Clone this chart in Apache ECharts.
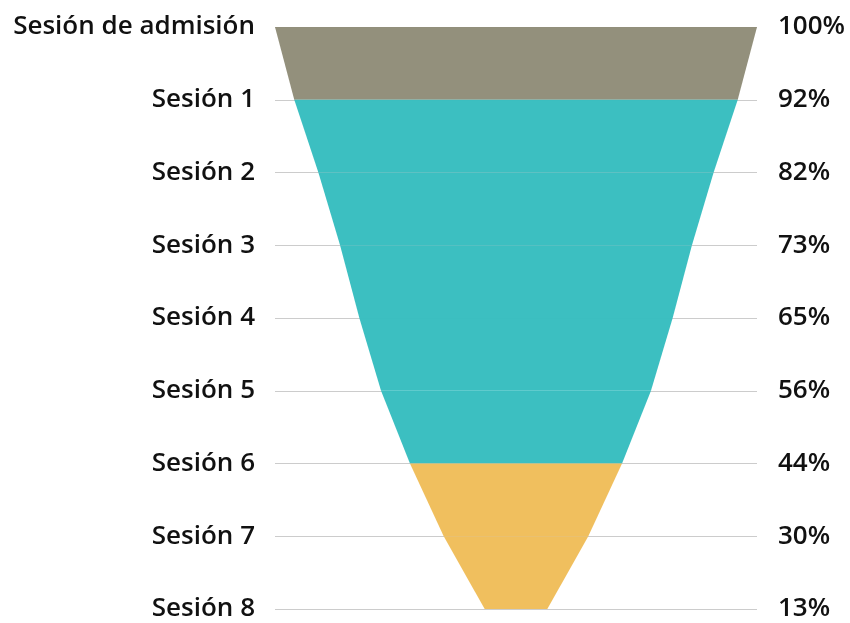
<!DOCTYPE html>
<html><head><meta charset="utf-8">
<script src="https://cdn.jsdelivr.net/npm/echarts@6/dist/echarts.min.js"></script>
<style>html,body{margin:0;padding:0;background:#fff}#c{width:850px;height:623px}</style>
</head><body><div id="c"></div>
<script>
var stages = ['Sesión de admisión','Sesión 1','Sesión 2','Sesión 3','Sesión 4','Sesión 5','Sesión 6','Sesión 7','Sesión 8'];
var percents = [100, 92, 82, 73, 65, 56, 44, 30, 13];
var segmentGroup = [0, 1, 1, 1, 1, 1, 2, 2];
var palette = ['#918e79', '#38bec0', '#f0be5b'];

var segData = [];
for (var i = 0; i < stages.length - 1; i++) {
  segData.push([i, percents[i], percents[i + 1], segmentGroup[i]]);
}
var chart = echarts.init(document.getElementById('c'));
var fontFam = '"Open Sans", Lato, sans-serif';
chart.setOption({
  animation: false,
  grid: {left: 275, right: 93, top: 27, bottom: 14},
  xAxis: {type: 'value', min: -50, max: 50, show: false},
  yAxis: [{
    type: 'category', data: stages, inverse: true, boundaryGap: false,
    axisLine: {show: false}, axisTick: {show: false},
    axisLabel: {color: '#111', fontSize: 26, fontWeight: 600, fontFamily: fontFam, margin: 20},
    splitLine: {show: true, lineStyle: {color: '#cccccc', width: 1}}
  }, {
    type: 'category', data: percents.map(function (p) { return p + '%'; }), inverse: true, boundaryGap: false,
    position: 'right',
    axisLine: {show: false}, axisTick: {show: false},
    axisLabel: {color: '#111', fontSize: 26, fontWeight: 600, fontFamily: fontFam, margin: 21},
    splitLine: {show: false}
  }],
  series: [{
    type: 'custom',
    data: segData,
    renderItem: function (params, api) {
      var idx = api.value(0), a = api.value(1), b = api.value(2), g = api.value(3);
      var p1 = api.coord([-a / 2, idx]);
      var p2 = api.coord([a / 2, idx]);
      var p3 = api.coord([b / 2, idx + 1]);
      var p4 = api.coord([-b / 2, idx + 1]);
      return {
        type: 'polygon',
        shape: {points: [p1, p2, p3, p4]},
        style: {fill: palette[g], opacity: 0.98}
      };
    },
    encode: {x: [1, 2], y: 0}
  }]
});
</script></body></html>
